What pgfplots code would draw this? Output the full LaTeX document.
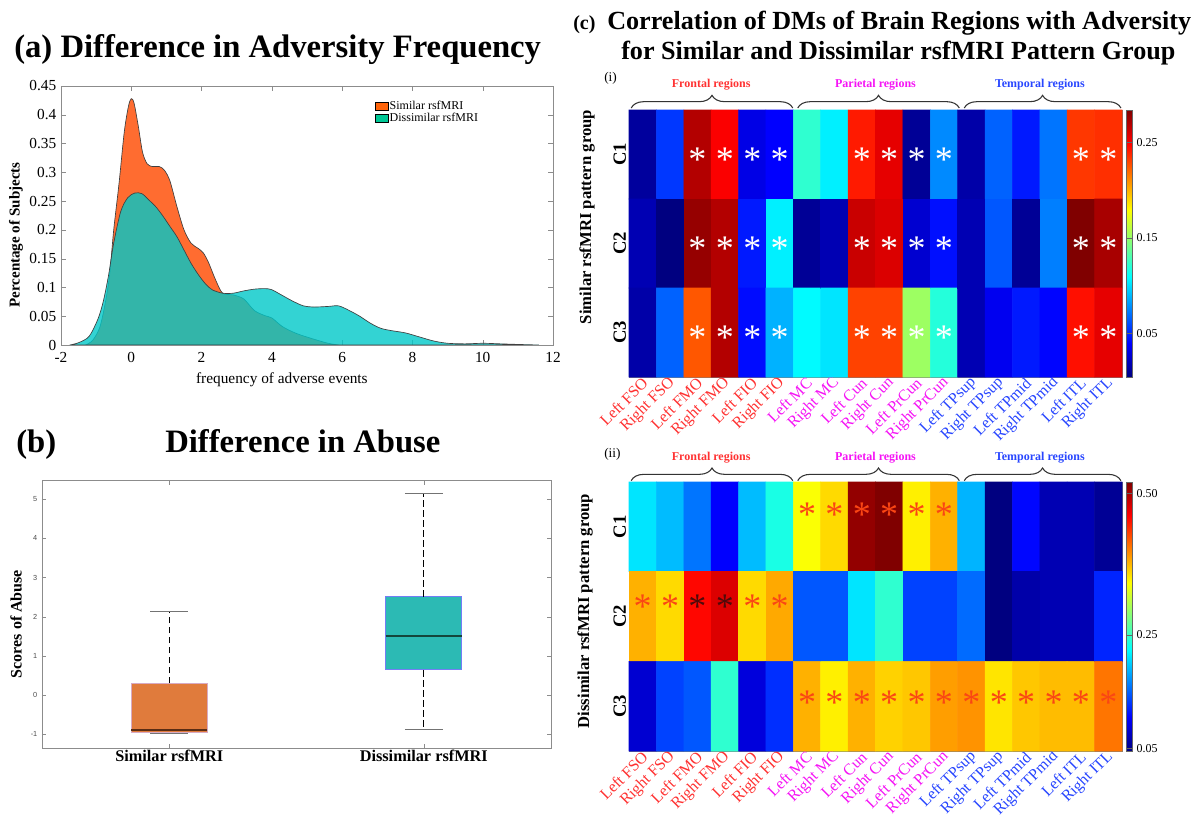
\documentclass[border=0pt]{standalone}
\usepackage{pgfplots}
\pgfplotsset{compat=1.18}
\usepgfplotslibrary{statistics}
\usetikzlibrary{decorations.pathreplacing}
\usepackage{fontspec}
\setmainfont{Liberation Serif}
\setsansfont{Liberation Sans}
\pgfkeys{/pgf/number format/assume math mode=true}
\newcommand{\fs}[1]{\fontsize{#1}{#1}\selectfont}
\definecolor{simC}{RGB}{255,108,48}
\definecolor{disC}{RGB}{0,200,200}
\definecolor{legSim}{RGB}{255,100,10}
\definecolor{legDis}{RGB}{0,200,150}
\definecolor{boxSim}{RGB}{224,123,60}
\definecolor{boxDis}{RGB}{44,186,180}
\definecolor{edgeSim}{RGB}{215,170,195}
\definecolor{edgeDis}{RGB}{115,125,245}
\definecolor{medSim}{RGB}{90,45,20}
\definecolor{medDis}{RGB}{20,70,60}
\definecolor{frC}{RGB}{255,50,50}
\definecolor{paC}{RGB}{245,20,245}
\definecolor{teC}{RGB}{40,70,255}
\definecolor{astR}{RGB}{250,70,20}
\definecolor{astD}{RGB}{80,10,10}
\tikzset{
  brace/.style={decorate, decoration={brace, amplitude=9.5pt}, line width=0.8pt, black!80},
  reg/.style={font=\bfseries\fs{9pt}},
}
\pgfplotsset{
  hm/.style={
    scale only axis, width=369.75pt,
    xmin=0.5, xmax=18.5, ymin=0.5, ymax=3.5, y dir=reverse,
    enlargelimits=false, clip=false,
    xtick={1,...,18}, ytick={1,2,3}, yticklabels={C1,C2,C3},
    xtick pos=both, ytick pos=both, tick align=inside,
    major tick length=3pt, tick style={black!45, line width=0.4pt},
    axis line style={black!50, line width=0.4pt},
    xticklabels={\textcolor{frC}{Left FSO},\textcolor{frC}{Right FSO},\textcolor{frC}{Left FMO},\textcolor{frC}{Right FMO},\textcolor{frC}{Left FIO},\textcolor{frC}{Right FIO},\textcolor{paC}{Left MC},\textcolor{paC}{Right MC},\textcolor{paC}{Left Cun},\textcolor{paC}{Right Cun},\textcolor{paC}{Left PrCun},\textcolor{paC}{Right PrCun},\textcolor{teC}{Left TPsup},\textcolor{teC}{Right TPsup},\textcolor{teC}{Left TPmid},\textcolor{teC}{Right TPmid},\textcolor{teC}{Left ITL},\textcolor{teC}{Right ITL}},
    xticklabel style={rotate=45, anchor=east, font=\fs{12pt}, inner sep=0.5pt, yshift=-3pt},
    yticklabel style={rotate=90, anchor=south, font=\bfseries\fs{14pt}, inner sep=2pt},
    colormap/jet, colorbar,
    colorbar shift/.style={xshift=3pt},
  },
  ast/.style={only marks, mark=text, text mark={*}, text mark as node=true,
    text mark style={font=\fs{27pt}, inner sep=0pt, yshift=-4pt}},
}
\begin{document}
\begin{tikzpicture}
\useasboundingbox (0,0) rectangle (899.25pt,611.25pt);

% ---------------- (a) ----------------
\node[anchor=base west, inner sep=0pt, font=\bfseries\fs{24.5pt}] at (10.5pt,567.75pt) {(a) Difference in Adversity Frequency};
\begin{axis}[at={(45.75pt,352.5pt)}, anchor=south west, scale only axis, width=369pt, height=194.25pt,
  xmin=-2, xmax=12, ymin=0, ymax=0.45,
  xtick={-2,0,2,4,6,8,10,12}, ytick={0,0.05,0.1,0.15,0.2,0.25,0.3,0.35,0.4,0.45},
  xtick pos=both, ytick pos=both, tick align=inside, major tick length=4pt,
  tick style={black!45}, axis line style={black!45},
  ticklabel style={font=\fs{11.5pt}},
  xticklabel style={yshift=-2pt},
  yticklabel style={/pgf/number format/fixed, /pgf/number format/precision=2},
  xlabel={frequency of adverse events},
  xlabel style={font=\fs{11.5pt}, at={(axis description cs:0.449,-0.135)}, anchor=center},
  legend style={at={(axis description cs:0.638,0.95)}, anchor=north west, draw=none, fill=none,
    font=\fs{9pt}, row sep=-0.5pt, inner sep=0pt, nodes={inner sep=1pt}},
  legend image code/.code={\fill[#1] (0pt,-3pt) rectangle (9.5pt,3pt);},
  legend cell align=left]
\addlegendimage{fill=legSim}\addlegendentry{Similar rsfMRI}
\addlegendimage{fill=legDis}\addlegendentry{Dissimilar rsfMRI}
\addplot[forget plot, smooth, tension=0.5, draw=black!75, line width=0.5pt, fill=simC] coordinates {
(-1.3,0) (-1.1,0.008) (-0.9,0.03) (-0.75,0.07) (-0.62,0.12) (-0.5,0.2) (-0.35,0.28) (-0.2,0.37)
(-0.08,0.415) (0,0.428) (0.08,0.42) (0.2,0.38) (0.32,0.335) (0.45,0.315) (0.6,0.31) (0.8,0.31)
(0.95,0.303) (1.1,0.285) (1.3,0.24) (1.5,0.20) (1.7,0.177) (1.9,0.168) (2.05,0.16) (2.2,0.143)
(2.4,0.113) (2.6,0.09) (2.9,0.087) (3.2,0.08) (3.5,0.06) (3.8,0.051) (4.0,0.047) (4.3,0.032)
(4.7,0.02) (5.2,0.01) (5.6,0.003) (5.9,0)} \closedcycle;
\addplot[forget plot, smooth, tension=0.5, draw=black!75, line width=0.5pt, fill=disC, fill opacity=0.8] coordinates {
(-1.75,0) (-1.5,0.004) (-1.2,0.015) (-0.95,0.045) (-0.8,0.075) (-0.65,0.12) (-0.5,0.177) (-0.3,0.232)
(-0.1,0.256) (0.1,0.264) (0.3,0.263) (0.5,0.252) (0.7,0.24) (0.9,0.224) (1.1,0.206) (1.3,0.188)
(1.5,0.165) (1.7,0.142) (1.9,0.123) (2.1,0.107) (2.3,0.096) (2.6,0.09) (2.9,0.09) (3.2,0.094)
(3.5,0.097) (3.8,0.098) (4.0,0.096) (4.3,0.086) (4.6,0.076) (4.9,0.068) (5.2,0.066) (5.6,0.067)
(5.9,0.068) (6.2,0.06) (6.5,0.05) (6.8,0.038) (7.1,0.029) (7.4,0.025) (7.8,0.021) (8.2,0.014)
(8.6,0.007) (9.0,0.003) (9.5,0.002) (10.0,0.003) (10.5,0.002) (11.0,0.001) (11.6,0)} \closedcycle;
\end{axis}
\node[rotate=90, font=\bfseries\fs{11.3pt}] at (12pt,435pt) {Percentage of Subjects};

% ---------------- (b) ----------------
\node[anchor=base west, inner sep=0pt, font=\bfseries\fs{24.5pt}] at (12pt,272.25pt) {(b)};
\node[anchor=base west, inner sep=0pt, font=\bfseries\fs{24.5pt}] at (123.75pt,272.25pt) {Difference in Abuse};
\begin{axis}[at={(31.5pt,50.025pt)}, anchor=south west, scale only axis, width=381.75pt, height=200.7pt,
  xmin=0.5, xmax=2.5, ymin=-1.36, ymax=5.47,
  xtick={1,2}, xticklabels={Similar rsfMRI, Dissimilar rsfMRI}, ytick={-1,0,1,2,3,4,5},
  xtick pos=both, ytick pos=both, tick align=inside, major tick length=3pt,
  tick style={black!45}, axis line style={black!45},
  xticklabel style={font=\bfseries\fs{12.2pt}, inner sep=1pt},
  yticklabel style={font=\sffamily\fs{5.5pt}, text=black!70},
  boxplot/draw direction=y,
  boxplot/every whisker/.style={draw=none}]
\addplot[boxplot prepared={draw position=1, lower whisker=-0.98, lower quartile=-0.95, median=-0.89,
   upper quartile=0.30, upper whisker=2.14, box extend=0.3, whisker extend=0.148},
   boxplot/every box/.style={draw=edgeSim, fill=boxSim, line width=0.8pt},
   boxplot/every median/.style={draw=medSim, line width=1.6pt}] coordinates {};
\addplot[boxplot prepared={draw position=2, lower whisker=-0.87, lower quartile=0.64, median=1.50,
   upper quartile=2.51, upper whisker=5.15, box extend=0.3, whisker extend=0.148},
   boxplot/every box/.style={draw=edgeDis, fill=boxDis, line width=0.8pt},
   boxplot/every median/.style={draw=medDis, line width=1.6pt}] coordinates {};
% whiskers
\addplot[black, line width=0.9pt, dash pattern=on 5pt off 2.5pt] coordinates {(1,0.30) (1,2.14)};
\addplot[black, line width=0.9pt, dash pattern=on 5pt off 2.5pt] coordinates {(2,2.51) (2,5.15)};
\addplot[black, line width=0.9pt, dash pattern=on 5pt off 2.5pt] coordinates {(2,0.64) (2,-0.87)};
% caps
\addplot[black!55, line width=0.8pt] coordinates {(0.926,2.14) (1.074,2.14)};
\addplot[black!55, line width=0.8pt] coordinates {(0.926,-0.98) (1.074,-0.98)};
\addplot[black!55, line width=0.8pt] coordinates {(1.926,5.15) (2.074,5.15)};
\addplot[black!55, line width=0.8pt] coordinates {(1.926,-0.87) (2.074,-0.87)};
\end{axis}
\node[rotate=90, font=\bfseries\fs{12pt}] at (12pt,143.25pt) {Scores of Abuse};

% ---------------- (c) titles ----------------
\node[anchor=base west, inner sep=0pt, font=\bfseries\fs{15pt}] at (429.75pt,588.75pt) {(c)};
\node[anchor=base west, inner sep=0pt, font=\bfseries\fs{19.6pt}] at (455.25pt,588.75pt) {Correlation of DMs of Brain Regions with Adversity};
\node[anchor=base west, inner sep=0pt, font=\bfseries\fs{19.6pt}] at (465.75pt,566.25pt) {for Similar and Dissimilar rsfMRI Pattern Group};

% ---------------- (c)(i) ----------------
\node[anchor=base west, inner sep=0pt, font=\fs{10pt}] at (453pt,549.75pt) {(i)};
\begin{axis}[hm, at={(471.75pt,328.5pt)}, anchor=south west, height=200.25pt,
  point meta min=0.004, point meta max=0.284,
  colorbar style={at={(parent axis.north east)}, anchor=north west, width=4.5pt,
    ytick={0.05,0.15,0.25}, major tick length=2pt, tick style={black!60}, axis line style={black!60},
    yticklabel style={font=\fs{9pt}, /pgf/number format/fixed, /pgf/number format/fixed zerofill, /pgf/number format/precision=2}}]
\addplot[matrix plot*, mesh/cols=18, point meta=explicit] coordinates {
(1,1) [0.012] (2,1) [0.054] (3,1) [0.270] (4,1) [0.250] (5,1) [0.032] (6,1) [0.039] (7,1) [0.122] (8,1) [0.105] (9,1) [0.242] (10,1) [0.256] (11,1) [0.010] (12,1) [0.077] (13,1) [0.015] (14,1) [0.066] (15,1) [0.046] (16,1) [0.071] (17,1) [0.234] (18,1) [0.236]

(1,2) [0.018] (2,2) [0.004] (3,2) [0.278] (4,2) [0.270] (5,2) [0.046] (6,2) [0.105] (7,2) [0.010] (8,2) [0.018] (9,2) [0.264] (10,2) [0.259] (11,2) [0.026] (12,2) [0.043] (13,2) [0.018] (14,2) [0.063] (15,2) [0.010] (16,2) [0.074] (17,2) [0.284] (18,2) [0.273]

(1,3) [0.015] (2,3) [0.066] (3,3) [0.225] (4,3) [0.270] (5,3) [0.042] (6,3) [0.088] (7,3) [0.108] (8,3) [0.102] (9,3) [0.231] (10,3) [0.231] (11,3) [0.152] (12,3) [0.119] (13,3) [0.018] (14,3) [0.035] (15,3) [0.046] (16,3) [0.040] (17,3) [0.245] (18,3) [0.256]
};
\addplot[ast, white] coordinates {
(3,1) (4,1) (5,1) (6,1) (9,1) (10,1) (11,1) (12,1) (17,1) (18,1)
(3,2) (4,2) (5,2) (6,2) (9,2) (10,2) (11,2) (12,2) (17,2) (18,2)
(3,3) (4,3) (5,3) (6,3) (9,3) (10,3) (11,3) (12,3) (17,3) (18,3)};
\draw[brace] ([yshift=1.5pt]axis cs:0.58,0.5) -- ([yshift=1.5pt]axis cs:6.48,0.5);
\draw[brace] ([yshift=1.5pt]axis cs:6.66,0.5) -- ([yshift=1.5pt]axis cs:12.56,0.5);
\draw[brace] ([yshift=1.5pt]axis cs:12.74,0.5) -- ([yshift=1.5pt]axis cs:18.46,0.5);
\node[reg, text=frC, yshift=18.75pt] at (axis cs:3.5,0.5) {Frontal regions};
\node[reg, text=paC, yshift=18.75pt] at (axis cs:9.5,0.5) {Parietal regions};
\node[reg, text=teC, yshift=18.75pt] at (axis cs:15.5,0.5) {Temporal regions};
\end{axis}
\node[rotate=90, font=\bfseries\fs{12.5pt}] at (440.25pt,448.5pt) {Similar rsfMRI pattern group};

% ---------------- (c)(ii) ----------------
\node[anchor=base west, inner sep=0pt, font=\fs{10pt}] at (453pt,268.5pt) {(ii)};
\begin{axis}[hm, at={(471.75pt,48pt)}, anchor=south west, height=201.75pt,
  point meta min=0.045, point meta max=0.52,
  colorbar style={at={(parent axis.north east)}, anchor=north west, width=4.5pt,
    ytick={0.05,0.25,0.50}, major tick length=2pt, tick style={black!60}, axis line style={black!60},
    yticklabel style={font=\fs{9pt}, /pgf/number format/fixed, /pgf/number format/fixed zerofill, /pgf/number format/precision=2}}]
\addplot[matrix plot*, mesh/cols=18, point meta=explicit] coordinates {
(1,1) [0.211] (2,1) [0.192] (3,1) [0.159] (4,1) [0.104] (5,1) [0.192] (6,1) [0.235] (7,1) [0.340] (8,1) [0.359] (9,1) [0.511] (10,1) [0.520] (11,1) [0.349] (12,1) [0.378] (13,1) [0.188] (14,1) [0.045] (15,1) [0.107] (16,1) [0.069] (17,1) [0.069] (18,1) [0.055]

(1,2) [0.378] (2,2) [0.359] (3,2) [0.458] (4,2) [0.477] (5,2) [0.359] (6,2) [0.382] (7,2) [0.145] (8,2) [0.145] (9,2) [0.211] (10,2) [0.245] (11,2) [0.135] (12,2) [0.135] (13,2) [0.154] (14,2) [0.045] (15,2) [0.064] (16,2) [0.069] (17,2) [0.069] (18,2) [0.121]

(1,3) [0.083] (2,3) [0.135] (3,3) [0.145] (4,3) [0.245] (5,3) [0.088] (6,3) [0.126] (7,3) [0.378] (8,3) [0.349] (9,3) [0.378] (10,3) [0.363] (11,3) [0.368] (12,3) [0.387] (13,3) [0.392] (14,3) [0.354] (15,3) [0.368] (16,3) [0.373] (17,3) [0.373] (18,3) [0.406]
};
\addplot[ast, astR] coordinates {
(7,0.8) (8,0.8) (9,0.8) (10,0.8) (11,0.8) (12,0.8)
(1,1.83) (2,1.83) (5,1.83) (6,1.83)
(7,2.9) (8,2.9) (9,2.9) (10,2.9) (11,2.9) (12,2.9) (13,2.9) (14,2.9) (15,2.9) (16,2.9) (17,2.9) (18,2.9)};
\addplot[ast, astD] coordinates {(3,1.83) (4,1.83)};
\draw[brace] ([yshift=1pt]axis cs:0.58,0.5) -- ([yshift=1pt]axis cs:6.48,0.5);
\draw[brace] ([yshift=1pt]axis cs:6.66,0.5) -- ([yshift=1pt]axis cs:12.56,0.5);
\draw[brace] ([yshift=1pt]axis cs:12.74,0.5) -- ([yshift=1pt]axis cs:18.46,0.5);
\node[reg, text=frC, yshift=18pt] at (axis cs:3.5,0.5) {Frontal regions};
\node[reg, text=paC, yshift=18pt] at (axis cs:9.5,0.5) {Parietal regions};
\node[reg, text=teC, yshift=18pt] at (axis cs:15.5,0.5) {Temporal regions};
\end{axis}
\node[rotate=90, font=\bfseries\fs{12.5pt}] at (438.75pt,153pt) {Dissimilar rsfMRI pattern group};
\end{tikzpicture}
\end{document}
